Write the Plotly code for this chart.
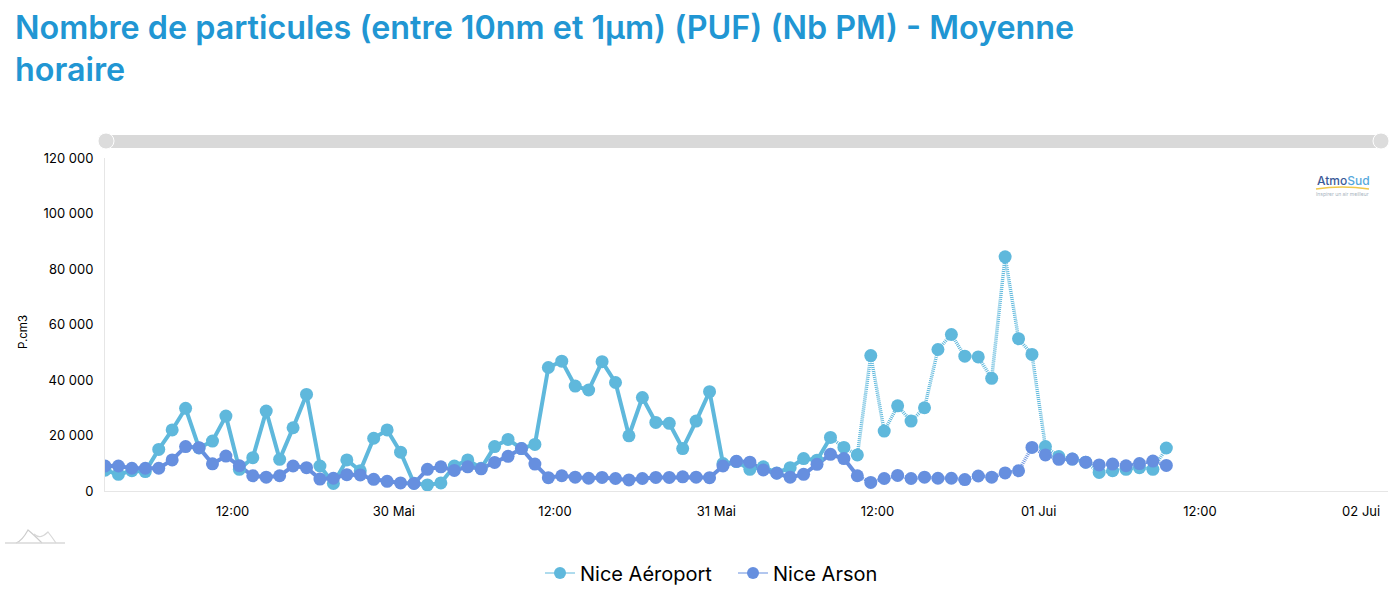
import pandas as pd
import plotly.graph_objects as go

start = "2024-05-29 02:30"
hours = pd.date_range(start, periods=80, freq="h")

aeroport = [7500, 6000, 7300, 7000, 15000, 22000, 29800, 15500, 18000, 27000,
            7800, 12000, 28800, 11400, 22800, 34800, 9000, 2700, 11200, 7300,
            19000, 22000, 14000, 2800, 2200, 2900, 9000, 11200, 8200, 16000,
            18600, 15300, 16800, 44500, 46800, 37800, 36400, 46600, 39100, 19900,
            33700, 24700, 24400, 15300, 25200, 35800, 9900, 10600, 7800, 8700,
            6500, 8400, 11700, 11100, 19300, 15700, 13000, 48800, 21600, 30700,
            25200, 30000, 51000, 56400, 48600, 48300, 40600, 84400, 54900, 49200,
            16000, 12400, 11500, 10400, 6700, 7300, 7800, 8400, 7800, 15500]
arson = [9000, 9000, 8200, 8200, 8200, 11200, 16000, 15600, 9800, 12600,
         9100, 5500, 5000, 5500, 9000, 8400, 4300, 4600, 5900, 5800,
         4200, 3500, 2900, 2700, 7800, 8700, 7400, 8700, 8000, 10300,
         12500, 15300, 9700, 4800, 5500, 5000, 4600, 4900, 4500, 4000,
         4500, 4900, 4900, 5100, 5000, 4800, 9000, 10700, 10400, 7600,
         6400, 5000, 6000, 9600, 13200, 11700, 5500, 3100, 4500, 5600,
         4500, 5000, 4600, 4600, 4100, 5400, 5000, 6500, 7300, 15700,
         13000, 11400, 11500, 10400, 9400, 9700, 9100, 9900, 10800, 9200]

# last validated value of each station, dotted after that
last_solid_a = 54
last_solid_b = 56

x_ticks = ["2024-05-29 12:00", "2024-05-30 00:00", "2024-05-30 12:00", "2024-05-31 00:00",
           "2024-05-31 12:00", "2024-06-01 00:00", "2024-06-01 12:00", "2024-06-02 00:00"]
x_labels = ["12:00", "30 Mai", "12:00", "31 Mai", "12:00", "01 Jui", "12:00", "02 Jui"]
y_ticks = [0, 20000, 40000, 60000, 80000, 100000, 120000]

font = "Inter"
color_a = "#5fb8dc"
color_b = "#668fdf"

# plot area in page pixels
left, right, top, bottom = 105, 1388, 158, 491


def px(x):
    return (x - left) / (right - left)


def py(y):
    return (bottom - y) / (bottom - top)


stations = [("Nice Aéroport", aeroport, color_a, last_solid_a), ("Nice Arson", arson, color_b, last_solid_b)]

fig = go.Figure()

for name, values, color, last_solid in stations:
    fig.add_trace(go.Scatter(x=hours[last_solid:], y=values[last_solid:], mode="lines",
                             line=dict(color=color, width=3.5, dash="1px,1px"),
                             showlegend=False, hoverinfo="skip"))
    fig.add_trace(go.Scatter(x=hours[:last_solid + 1], y=values[:last_solid + 1], mode="lines",
                             line=dict(color=color, width=4),
                             showlegend=False, hoverinfo="skip"))

for name, values, color, last_solid in stations:
    fig.add_trace(go.Scatter(x=hours, y=values, mode="markers", name=name,
                             marker=dict(color=color, size=13), showlegend=False))
    # legend entry only, thin line
    fig.add_trace(go.Scatter(x=[None], y=[None], mode="lines+markers", name=name,
                             line=dict(color=color, width=1), marker=dict(color=color, size=12)))

fig.update_layout(
    width=1390, height=592,
    margin=dict(l=left, r=1390 - right, t=top, b=592 - bottom),
    paper_bgcolor="white", plot_bgcolor="white",
    font=dict(family=font, color="black", size=13),
    separators=". ",
    title=dict(text="Nombre de particules (entre 10nm et 1µm) (PUF) (Nb PM) - Moyenne<br>horaire",
               x=15 / 1390, xanchor="left", y=1 - 39 / 592, yanchor="middle",
               font=dict(family=font, size=32.3, color="#2196d3", weight=600)),
    legend=dict(orientation="h", x=px(540), xanchor="left", yref="container", y=1 - 573 / 592, yanchor="middle",
                entrywidth=148, entrywidthmode="pixels",
                font=dict(size=20, color="black")),
)
fig.update_xaxes(type="date", range=[start, "2024-06-02 02:00"], tickvals=x_ticks, ticktext=x_labels,
                 showgrid=False, zeroline=False, showline=True, linecolor="#e6e6e6", ticks="",
                 ticklabelstandoff=8, tickfont=dict(size=13))
fig.update_yaxes(range=[0, 120000], tickvals=y_ticks, tickformat=",d", showgrid=False, zeroline=False,
                 showline=True, linecolor="#e6e6e6", ticks="", ticklabelstandoff=8, tickfont=dict(size=13))

fig.add_annotation(xref="paper", yref="paper", x=px(23), y=py(332), showarrow=False, textangle=-90,
                   xanchor="center", yanchor="middle", text="P.cm3", font=dict(size=11.5))

# scrollbar above the plot
fig.add_shape(type="rect", xref="paper", yref="paper", x0=px(105), x1=px(1381), y0=py(148), y1=py(135),
              fillcolor="#d9d9d9", line_width=0)
for cx in [106, 1381]:
    fig.add_shape(type="circle", xref="x domain", yref="y domain", xsizemode="pixel", ysizemode="pixel",
                  xanchor=px(cx), yanchor=py(141), x0=-8, x1=8, y0=-8, y1=8,
                  fillcolor="#dcdcdc", line=dict(color="white", width=1))

# AtmoSud logo
fig.add_annotation(xref="paper", yref="paper", x=px(1343), y=py(180), showarrow=False,
                   xanchor="center", yanchor="middle",
                   text="<span style='color:#3a5a98'>Atmo</span><span style='color:#55a8dc'>Sud</span>",
                   font=dict(size=12, weight=500))
fig.add_annotation(xref="paper", yref="paper", x=px(1342), y=py(194), showarrow=False,
                   xanchor="center", yanchor="middle",
                   text="Inspirer un air meilleur", font=dict(size=5, color="#a8b4c0"))
fig.add_shape(type="path", xref="paper", yref="paper",
              path=f"M {px(1316)} {py(189)} Q {px(1342)} {py(185)} {px(1369)} {py(189)}",
              line=dict(color="#f0c94a", width=1.5))

# small mountains icon bottom left
fig.add_shape(type="path", xref="paper", yref="paper",
              path=f"M {px(16)} {py(543)} Q {px(22)} {py(541)} {px(28)} {py(530)} Q {px(33)} {py(534)} {px(42)} {py(543)}",
              line=dict(color="#cccccc", width=1.2))
fig.add_shape(type="path", xref="paper", yref="paper",
              path=f"M {px(34)} {py(534)} Q {px(40)} {py(540)} {px(48)} {py(532)} Q {px(52)} {py(537)} {px(56)} {py(543)}",
              line=dict(color="#d8d8d8", width=1.2))
fig.add_shape(type="line", xref="paper", yref="paper", x0=px(5), x1=px(65), y0=py(543), y1=py(543),
              line=dict(color="#d8d8d8", width=1.5))

fig.write_html("out.html", config=dict(displayModeBar=False), post_script="document.body.style.margin='0';")
